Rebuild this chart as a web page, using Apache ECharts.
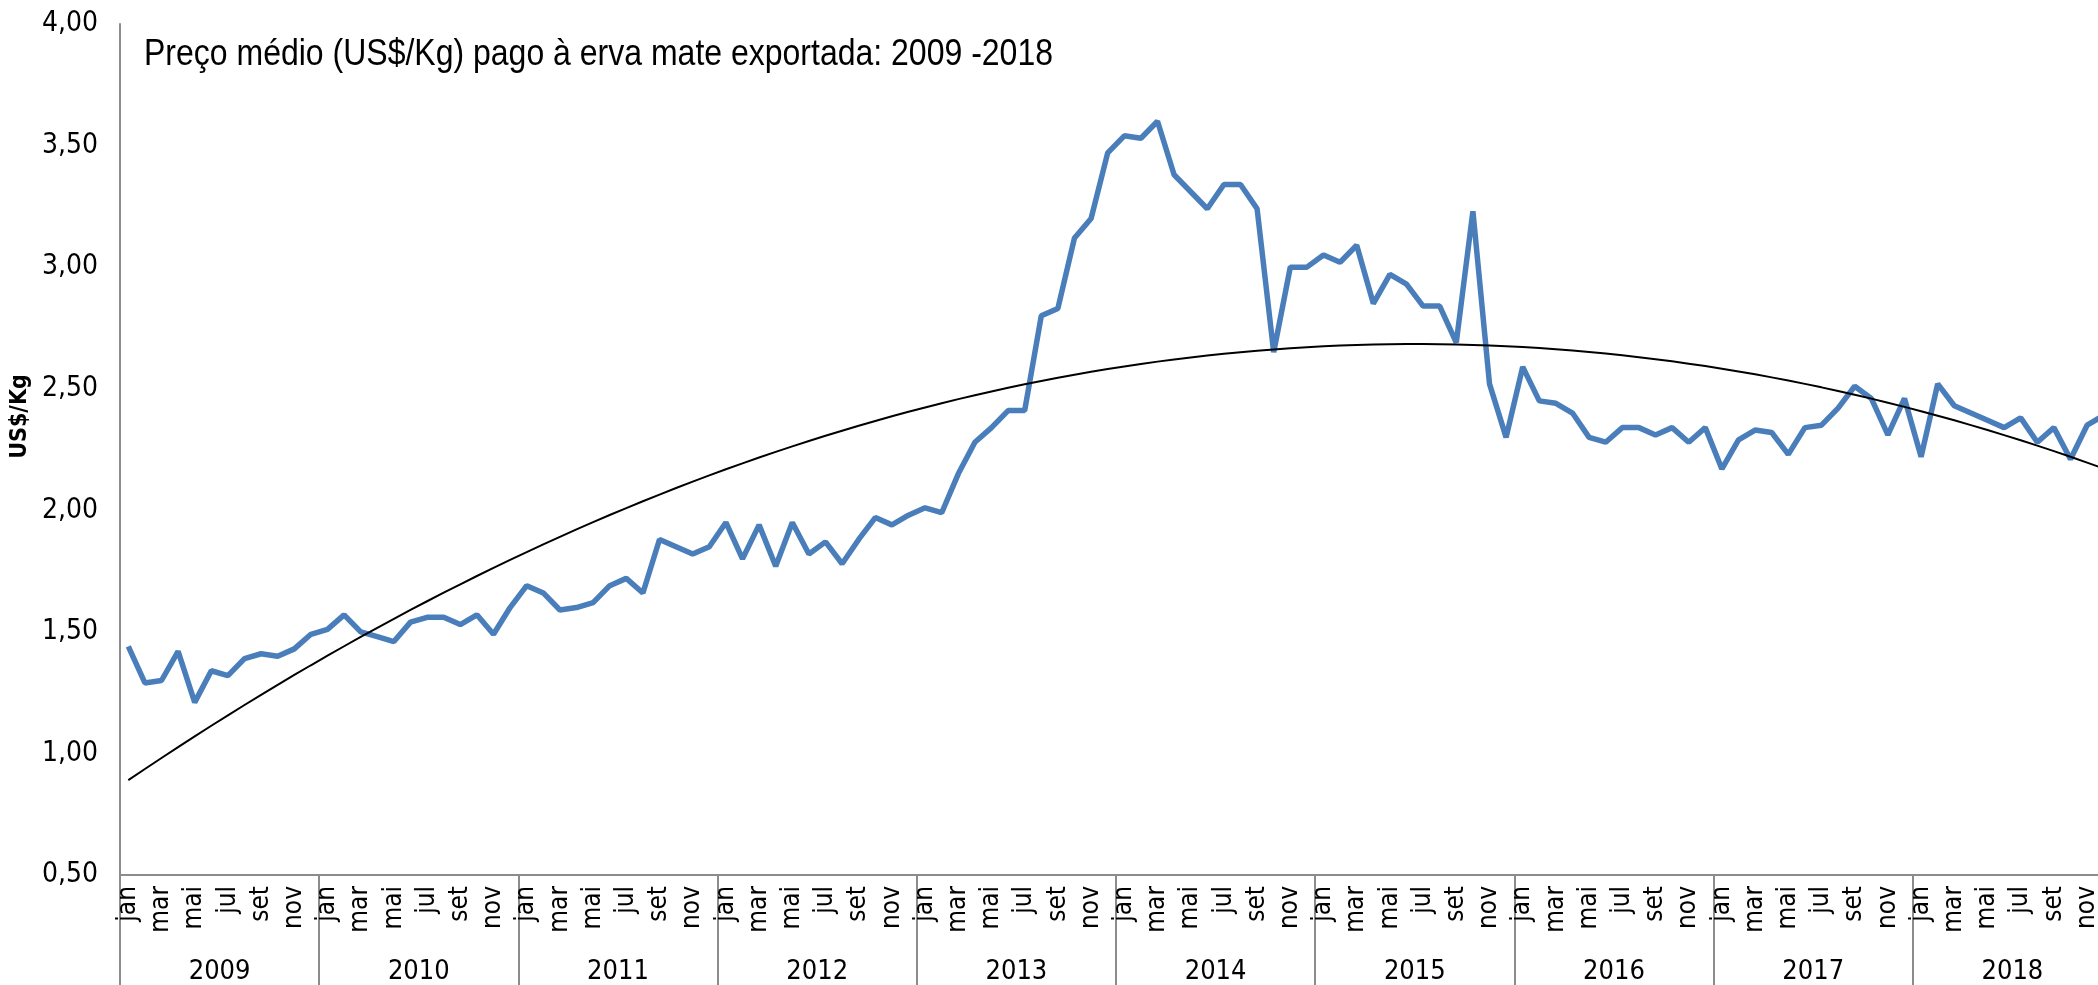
<!DOCTYPE html>
<html>
<head>
<meta charset="utf-8">
<title>Preço médio erva mate exportada</title>
<script src="https://cdn.jsdelivr.net/npm/echarts@6/dist/echarts.min.js"></script>
<style>
    html, body { margin: 0; padding: 0; background: #fff; }
    #chart { width: 2098px; height: 985px; }
</style>
</head>
<body>
<div id="chart"></div>
<script>
(function () {
    'use strict';

    var years = ['2009', '2010', '2011', '2012', '2013', '2014', '2015', '2016', '2017', '2018'];
    var monthNames = ['jan', 'fev', 'mar', 'abr', 'mai', 'jun', 'jul', 'ago', 'set', 'out', 'nov', 'dez'];
    var yTicks = { min: 0.5, max: 4, interval: 0.5 };

    // preço médio mensal (US$/Kg)
    var p2009 = [1.44, 1.29, 1.30, 1.42, 1.21, 1.34, 1.32, 1.39, 1.41, 1.40, 1.43, 1.49];
    var p2010 = [1.51, 1.57, 1.50, 1.48, 1.46, 1.54, 1.56, 1.56, 1.53, 1.57, 1.49, 1.60];
    var p2011 = [1.69, 1.66, 1.59, 1.60, 1.62, 1.69, 1.72, 1.66, 1.88, 1.85, 1.82, 1.85];
    var p2012 = [1.95, 1.80, 1.94, 1.77, 1.95, 1.82, 1.87, 1.78, 1.88, 1.97, 1.94, 1.98];
    var p2013 = [2.01, 1.99, 2.15, 2.28, 2.34, 2.41, 2.41, 2.80, 2.83, 3.12, 3.20, 3.47];
    var p2014 = [3.54, 3.53, 3.60, 3.38, 3.31, 3.24, 3.34, 3.34, 3.24, 2.65, 3.00, 3.00];
    var p2015 = [3.05, 3.02, 3.09, 2.85, 2.97, 2.93, 2.84, 2.84, 2.69, 3.23, 2.52, 2.30];
    var p2016 = [2.59, 2.45, 2.44, 2.40, 2.30, 2.28, 2.34, 2.34, 2.31, 2.34, 2.28, 2.34];
    var p2017 = [2.17, 2.29, 2.33, 2.32, 2.23, 2.34, 2.35, 2.42, 2.51, 2.46, 2.31, 2.46];
    var p2018 = [2.22, 2.52, 2.43, 2.40, 2.37, 2.34, 2.38, 2.28, 2.34, 2.21, 2.35, 2.39];

    var prices = [].concat(p2009, p2010, p2011, p2012, p2013, p2014, p2015, p2016, p2017, p2018);

    var months = [];
    for (var y = 0; y < years.length; y++) {
        for (var m = 0; m < 12; m++) {
            months.push(monthNames[m]);
        }
    }

    // linha de tendência polinomial (ordem 2), mínimos quadrados sobre a série
    function quadTrend(values) {
        var n = values.length, s = [0, 0, 0, 0, 0], t = [0, 0, 0];
        for (var i = 0; i < n; i++) {
            var x = i + 1, xp = 1;
            for (var k = 0; k < 5; k++) {
                s[k] += xp;
                if (k < 3) { t[k] += xp * values[i]; }
                xp *= x;
            }
        }
        var A = [[s[0], s[1], s[2], t[0]], [s[1], s[2], s[3], t[1]], [s[2], s[3], s[4], t[2]]];
        for (var c = 0; c < 3; c++) {
            for (var r = c + 1; r < 3; r++) {
                var f = A[r][c] / A[c][c];
                for (var j = c; j < 4; j++) { A[r][j] -= f * A[c][j]; }
            }
        }
        var b = [0, 0, 0];
        for (var q = 2; q >= 0; q--) {
            var sum = A[q][3];
            for (var w = q + 1; w < 3; w++) { sum -= A[q][w] * b[w]; }
            b[q] = sum / A[q][q];
        }
        return values.map(function (v, i) {
            var x = i + 1;
            return b[0] + b[1] * x + b[2] * x * x;
        });
    }

    var trend = quadTrend(prices);
    var narrow = '"DejaVu Sans Condensed", "DejaVu Sans", sans-serif';

    var chart = echarts.init(document.getElementById('chart'));

    chart.setOption({
        animation: false,
        backgroundColor: '#ffffff',
        graphic: [{
            type: 'text',
            x: 144,
            y: 37,
            scaleY: 1.14,
            style: {
                text: 'Preço médio (US$/Kg) pago à erva mate exportada: 2009 -2018',
                font: '32px "Liberation Sans", Arial, sans-serif',
                fill: '#000',
                verticalAlign: 'top'
            }
        }],
        grid: {
            left: 120,
            right: -14,
            top: 24,
            bottom: 110,
            outerBoundsMode: 'none'
        },
        xAxis: [{
            type: 'category',
            data: months,
            boundaryGap: true,
            axisLine: { lineStyle: { color: '#8c8c8c', width: 2 } },
            axisTick: { show: false },
            axisLabel: {
                interval: 1,
                rotate: 90,
                margin: 11,
                fontFamily: narrow,
                fontSize: 26,
                color: '#000'
            },
            splitLine: { show: false }
        }, {
            type: 'category',
            data: years,
            position: 'bottom',
            boundaryGap: true,
            axisLine: { show: false },
            axisTick: {
                show: true,
                interval: 0,
                length: 112,
                lineStyle: { color: '#8c8c8c', width: 2 }
            },
            axisLabel: {
                interval: 0,
                margin: 83,
                fontFamily: narrow,
                fontSize: 27,
                color: '#000'
            },
            splitLine: { show: false }
        }],
        yAxis: {
            type: 'value',
            min: yTicks.min,
            max: yTicks.max,
            interval: yTicks.interval,
            name: 'US$/Kg',
            nameLocation: 'middle',
            nameGap: 74,
            nameTextStyle: {
                fontFamily: narrow,
                fontWeight: 'bold',
                fontSize: 23,
                color: '#000',
                padding: [0, 0, 0, 66]
            },
            axisLine: { show: true, lineStyle: { color: '#8c8c8c', width: 2 } },
            axisTick: { show: false },
            splitLine: { show: false },
            axisLabel: {
                margin: 22,
                fontFamily: narrow,
                fontSize: 28,
                color: '#000',
                formatter: function (v) {
                    return v.toFixed(2).replace('.', ',');
                }
            }
        },
        series: [{
            name: 'Preço médio',
            type: 'line',
            data: prices,
            symbol: 'none',
            lineStyle: { color: '#4a7ebb', width: 5.5 },
            z: 2
        }, {
            name: 'Tendência',
            type: 'line',
            data: trend,
            symbol: 'none',
            smooth: false,
            lineStyle: { color: '#000', width: 2 },
            z: 3
        }]
    });
}());
</script>
</body>
</html>
